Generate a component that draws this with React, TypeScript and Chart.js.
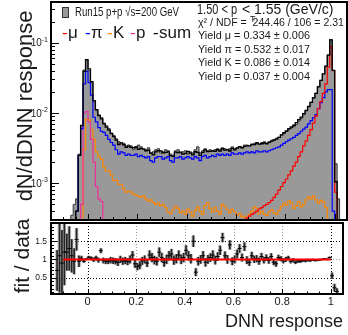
import React, { useEffect, useRef } from "react";
import { Chart, registerables } from "chart.js";
Chart.register(...registerables);

// ---------------- axis ranges / binning ----------------
const X_MIN = -0.15;
const X_MAX = 1.05;
const BIN_WIDTH = 0.01;
const Y_TOP_MIN = 3.1e-4;
const Y_TOP_MAX = 0.38;
const Y_BOT_MIN = 0.05;
const Y_BOT_MAX = 2.0;

const xTickValues = [0, 0.2, 0.4, 0.6, 0.8, 1];
const yTopTickValues = [1e-3, 1e-2, 1e-1];
const yBotTickValues = [0.5, 1, 1.5];
const refLinesX = [0, 1];
const refLinesY = [0.5, 1.5];
const fitRange = [-0.1, 1.0];

// ---------------- data (bin contents, first bin low edge given) ----------------
const dataStart = -0.13;
const dataValues = [
  0.00003, 0.00004, 0.00005, 0.00008, 0.00012, 0.0002, 0.00035, 0.0005, 0.0006, 0.0026,
  0.0065, 0.041, 0.057, 0.040, 0.027, 0.0150, 0.0108, 0.0094, 0.0086, 0.0072,
  0.0066, 0.0060, 0.0052, 0.0048, 0.0043, 0.0039, 0.0038, 0.0037, 0.0034, 0.0035,
  0.0034, 0.0030, 0.0033, 0.0035, 0.0033, 0.0031, 0.0030, 0.0032, 0.0027, 0.0028,
  0.0030, 0.0031, 0.0027, 0.0028, 0.0030, 0.0029, 0.0026, 0.0025, 0.0029, 0.0030,
  0.0027, 0.0028, 0.0029, 0.0026, 0.0028, 0.0027, 0.0030, 0.0033, 0.0027, 0.0029,
  0.0031, 0.0029, 0.0030, 0.0029, 0.0030, 0.0031, 0.0030, 0.0032, 0.0031, 0.0030,
  0.0031, 0.0033, 0.0031, 0.0032, 0.0033, 0.0032, 0.0035, 0.0035, 0.0034, 0.0036,
  0.0037, 0.0038, 0.0036, 0.0038, 0.0039, 0.0037, 0.0039, 0.0041, 0.0042, 0.0044,
  0.0045, 0.0049, 0.0051, 0.0055, 0.0058, 0.0061, 0.0064, 0.0069, 0.0077, 0.0084,
  0.0094, 0.0107, 0.0121, 0.0142, 0.0166, 0.0191, 0.0239, 0.0292, 0.0361, 0.0462,
  0.0671, 0.111, 0.0404, 0.0019, 0.0006, 0.0002,
];

const piStart = -0.07;
const piValues = [
  0.0001, 0.0002, 0.0004, 0.0025, 0.0060, 0.026, 0.039, 0.027, 0.018, 0.0087,
  0.0075, 0.0062, 0.0055, 0.0053, 0.0048, 0.0042, 0.0038, 0.0035, 0.0030, 0.0026,
  0.0028, 0.0027, 0.0025, 0.0026, 0.0025, 0.0025, 0.0026, 0.0024, 0.0025, 0.0024,
  0.0023, 0.0024, 0.0021, 0.0020, 0.0023, 0.0024, 0.0024, 0.0022, 0.0023, 0.0024,
  0.0021, 0.0020, 0.0023, 0.0023, 0.0024, 0.0022, 0.0023, 0.0024, 0.0023, 0.0022,
  0.0024, 0.0023, 0.0021, 0.0024, 0.0025, 0.0023, 0.0024, 0.0025, 0.0024, 0.0026,
  0.0025, 0.0026, 0.0025, 0.0026, 0.0025, 0.0027, 0.0026, 0.0026, 0.0027, 0.0026,
  0.0027, 0.0028, 0.0027, 0.0028, 0.0027, 0.0029, 0.0028, 0.0028, 0.0029, 0.0028,
  0.0029, 0.0030, 0.0031, 0.0032, 0.0033, 0.0035, 0.0037, 0.0039, 0.0041, 0.0043,
  0.0045, 0.0048, 0.0051, 0.0055, 0.0059, 0.0063, 0.0070, 0.0078, 0.0086, 0.0095,
  0.0115, 0.0140, 0.0165, 0.0200, 0.0215, 0.0215, 0.0004, 0.0003,
];

const kStart = -0.03;
const kValues = [
  0.00015, 0.0030, 0.0081, 0.0080, 0.0058, 0.0042, 0.0028, 0.0024, 0.0022, 0.0017,
  0.0015, 0.0015, 0.0013, 0.0011, 0.0011, 0.00096, 0.00096, 0.00083, 0.00075, 0.00077,
  0.00075, 0.00070, 0.00068, 0.00065, 0.00063, 0.00066, 0.00060, 0.00055, 0.00058, 0.00053,
  0.00050, 0.00052, 0.00048, 0.00050, 0.00045, 0.00039, 0.00037, 0.00042, 0.00047, 0.00044,
  0.00038, 0.00040, 0.00036, 0.00043, 0.00039, 0.00034, 0.00041, 0.00046, 0.00040, 0.00036,
  0.00048, 0.00053, 0.00044, 0.00039, 0.00045, 0.00040, 0.00036, 0.00050, 0.00047, 0.00042,
  0.00038, 0.00043, 0.00039, 0.00035, 0.00037, 0.00033, 0.00034, 0.00028, 0.00036, 0.00040,
  0.00046, 0.00044, 0.00037, 0.00040, 0.00036, 0.00035, 0.00039, 0.00042, 0.00038, 0.00036,
  0.00041, 0.00047, 0.00052, 0.00049, 0.00056, 0.00052, 0.00044, 0.00048, 0.00055, 0.00046,
  0.00050, 0.00058, 0.00064, 0.00060, 0.00066, 0.00058, 0.00052, 0.00057, 0.00054, 0.00045,
];

const pStart = -0.03;
const pValues = [0.0005, 0.0100, 0.0105, 0.0074, 0.0042, 0.0020, 0.0009, 0.0006, 0.00055];

const muStart = 0.6;
const muValues = [
  0.00022, 0.00025, 0.00027, 0.00030, 0.00032, 0.00034, 0.00036, 0.00038, 0.00040, 0.00043,
  0.00045, 0.00048, 0.00050, 0.00053, 0.00057, 0.00063, 0.00070, 0.00080, 0.00090, 0.00102,
  0.00115, 0.00132, 0.00150, 0.00175, 0.0020, 0.0024, 0.0028, 0.0034, 0.0040, 0.0048,
  0.0058, 0.0072, 0.0090, 0.0115, 0.0145, 0.019, 0.026, 0.045, 0.088, 0.040,
  0.00075,
];

// fit / data ratio per bin, with errors
const ratioStart = -0.13;
const ratioValues = [
  0.70, 1.10, 0.90, 1.20, 1.20, 1.30, 1.10, 0.95, 1.55, 0.95,
  1.03, 0.95, 1.01, 1.06, 1.04, 0.99, 1.04, 0.98, 1.24, 0.97,
  0.95, 0.95, 0.98, 0.96, 0.95, 0.92, 1.00, 0.95, 0.97, 0.94,
  1.00, 1.12, 0.88, 0.80, 0.84, 0.96, 1.00, 0.90, 1.12, 1.05,
  0.98, 0.95, 1.20, 1.05, 0.92, 1.00, 1.10, 1.15, 0.98, 1.02,
  1.12, 1.00, 1.05, 1.25, 1.10, 1.02, 1.50, 0.65, 0.95, 1.00,
  1.10, 0.92, 1.00, 1.05, 1.12, 0.98, 1.08, 1.25, 1.60, 1.10,
  1.00, 1.40, 0.95, 1.00, 1.15, 1.30, 1.05, 1.35, 0.98, 0.92,
  1.10, 1.00, 1.02, 0.95, 1.08, 0.98, 1.05, 0.97, 1.08, 0.92,
  0.88, 1.05, 1.02, 0.96, 1.00, 1.04, 0.95, 0.98, 0.92, 0.96,
  0.95, 0.97, 0.96, 0.98, 0.97, 0.99, 0.97, 0.98, 0.99, 1.00,
  1.02, 1.00, 1.05, 0.55, 0.22, 0.12,
];
const ratioErrors = [
  0.55, 1.00, 0.90, 0.90, 0.50, 0.60, 0.45, 0.35, 0.30, 0.15,
  0.06, 0.03, 0.02, 0.03, 0.03, 0.05, 0.05, 0.06, 0.06, 0.07,
  0.07, 0.07, 0.08, 0.08, 0.08, 0.09, 0.09, 0.09, 0.09, 0.09,
  0.10, 0.10, 0.10, 0.09, 0.10, 0.10, 0.10, 0.10, 0.12, 0.12,
  0.11, 0.11, 0.12, 0.12, 0.11, 0.12, 0.12, 0.13, 0.12, 0.12,
  0.12, 0.12, 0.12, 0.13, 0.12, 0.12, 0.15, 0.10, 0.11, 0.11,
  0.12, 0.11, 0.11, 0.11, 0.12, 0.11, 0.11, 0.12, 0.12, 0.11,
  0.11, 0.12, 0.10, 0.10, 0.11, 0.11, 0.10, 0.11, 0.10, 0.09,
  0.10, 0.09, 0.09, 0.09, 0.09, 0.08, 0.08, 0.08, 0.08, 0.07,
  0.07, 0.07, 0.06, 0.06, 0.06, 0.05, 0.05, 0.05, 0.04, 0.04,
  0.04, 0.03, 0.03, 0.03, 0.03, 0.02, 0.02, 0.02, 0.02, 0.015,
  0.01, 0.01, 0.02, 0.08, 0.10, 0.08,
];

// ---------------- text ----------------
const dataLabel = "Run15 p+p \u221As=200 GeV";
const legendNames = ["\u03BC", "\u03C0", "K", "p", "sum"];
const legendColors = ["#ff0000", "#0000ff", "#ff8800", "#f0309a", "#000000"];
const rangeLabelLeft = "1.50 < p";
const rangeLabelSub = "T";
const rangeLabelRight = "< 1.55 (GeV/c)";
const chi2Label = "\u03C7\u00B2 / NDF =  244.46 / 106 = 2.31";
const yieldLabels = [
  "Yield \u03BC = 0.334 \u00B1 0.006",
  "Yield \u03C0 = 0.532 \u00B1 0.017",
  "Yield K = 0.086 \u00B1 0.014",
  "Yield p = 0.037 \u00B1 0.004",
];
const yTopTitle = "dN/dDNN response";
const yBotTitle = "fit / data";
const xTitle = "DNN response";

// ---------------- helpers ----------------
const FONT = '"Liberation Sans", Arial, Helvetica, sans-serif';
const TINY = 1e-7;
const N_BINS = Math.round((X_MAX - X_MIN) / BIN_WIDTH);

function placeBins(start: number, values: number[]): number[] {
  const out: number[] = new Array(N_BINS).fill(0);
  const off = Math.round((start - X_MIN) / BIN_WIDTH);
  values.forEach((v, i) => {
    const j = off + i;
    if (j >= 0 && j < N_BINS) out[j] = v;
  });
  return out;
}

function histPoints(bins: number[]) {
  const pts = bins.map((v, i) => ({ x: X_MIN + i * BIN_WIDTH, y: v > 0 ? v : TINY }));
  pts.push({ x: X_MAX, y: TINY });
  return pts;
}

const dataBins = placeBins(dataStart, dataValues);
const piBins = placeBins(piStart, piValues);
const kBins = placeBins(kStart, kValues);
const pBins = placeBins(pStart, pValues);
const muBins = placeBins(muStart, muValues);
const sumBins = piBins.map((v, i) => v + kBins[i] + pBins[i] + muBins[i]);

function seg(ctx: CanvasRenderingContext2D, x1: number, y1: number, x2: number, y2: number) {
  ctx.beginPath();
  ctx.moveTo(x1, y1);
  ctx.lineTo(x2, y2);
  ctx.stroke();
}

function text(
  ctx: CanvasRenderingContext2D, s: string, x: number, y: number, size: number,
  color = "#1a1a1a", align: CanvasTextAlign = "left", maxW?: number
) {
  ctx.font = `${size}px ${FONT}`;
  ctx.fillStyle = color;
  ctx.textAlign = align;
  ctx.textBaseline = "middle";
  if (maxW) ctx.fillText(s, x, y, maxW);
  else ctx.fillText(s, x, y);
}

function rotText(ctx: CanvasRenderingContext2D, s: string, x: number, y: number, size: number, maxW?: number) {
  ctx.save();
  ctx.translate(x, y);
  ctx.rotate(-Math.PI / 2);
  ctx.font = `${size}px ${FONT}`;
  ctx.fillStyle = "#1a1a1a";
  ctx.textAlign = "center";
  ctx.textBaseline = "alphabetic";
  if (maxW) ctx.fillText(s, 0, 0, maxW);
  else ctx.fillText(s, 0, 0);
  ctx.restore();
}

function drawXTicks(ctx: CanvasRenderingContext2D, xs: any, yBase: number, major: number, minor: number) {
  ctx.strokeStyle = "#000";
  ctx.lineWidth = 1;
  for (let k = -3; k <= 21; k++) {
    const v = k * 0.05;
    if (v < X_MIN || v > X_MAX) continue;
    const px = Math.round(xs.getPixelForValue(v)) + 0.5;
    const len = k % 4 === 0 ? major : minor;
    seg(ctx, px, yBase, px, yBase - len);
  }
}

const topPlugin = {
  id: "topDecor",
  afterDraw(chart: any) {
    const { ctx, chartArea: a } = chart;
    const xs = chart.scales.x;
    const ys = chart.scales.y;
    ctx.save();
    // y ticks (inward)
    ctx.strokeStyle = "#000";
    ctx.lineWidth = 1;
    for (let e = -4; e <= 0; e++) {
      for (let m = 1; m <= 9; m++) {
        const v = m * Math.pow(10, e);
        if (v < Y_TOP_MIN || v > Y_TOP_MAX) continue;
        const py = Math.round(ys.getPixelForValue(v)) + 0.5;
        seg(ctx, a.left, py, a.left + (m === 1 ? 8 : 4), py);
      }
    }
    drawXTicks(ctx, xs, a.bottom, 6, 3);
    // frame
    ctx.lineWidth = 2;
    ctx.strokeRect(a.left, a.top, a.right - a.left, a.bottom - a.top);
    // y labels 10^n
    for (const v of yTopTickValues) {
      const py = ys.getPixelForValue(v);
      const ex = String(Math.round(Math.log10(v)));
      ctx.font = `7px ${FONT}`;
      const w = ctx.measureText(ex).width;
      const right = a.left - 3;
      text(ctx, ex, right - w, py - 3, 7, "#1a1a1a", "left");
      text(ctx, "10", right - w, py + 1, 10, "#1a1a1a", "right");
    }
    // y title
    rotText(ctx, yTopTitle, 32, 106, 22);
    // legend: data
    ctx.fillStyle = "#999999";
    ctx.fillRect(62, 7, 6, 10);
    ctx.strokeStyle = "#333";
    ctx.lineWidth = 1;
    ctx.strokeRect(62.5, 7.5, 6, 10);
    text(ctx, dataLabel, 75, 12, 13, "#1a1a1a", "left", 104);
    // legend: components
    const lx = [62, 85, 107, 130, 153];
    legendNames.forEach((n, i) => {
      text(ctx, "-", lx[i], 33, 17, legendColors[i], "left");
      text(ctx, n, lx[i] + 6, 33, 17, "#1a1a1a", "left");
    });
    // stats block
    text(ctx, rangeLabelLeft, 197, 10, 14, "#1a1a1a", "left", 40);
    text(ctx, rangeLabelRight, 242, 10, 14, "#1a1a1a", "left", 101);
    text(ctx, chi2Label, 198, 22.5, 11, "#1a1a1a", "left", 146);
    text(ctx, rangeLabelSub, 250, 20, 9, "#1a1a1a", "left");
    yieldLabels.forEach((s, i) => {
      text(ctx, s, 198, 36 + i * 13.7, 11, "#1a1a1a", "left", 112);
    });
    ctx.restore();
  },
};

const botPlugin = {
  id: "botDecor",
  beforeDatasetsDraw(chart: any) {
    const { ctx, chartArea: a } = chart;
    const xs = chart.scales.x;
    const ys = chart.scales.y;
    ctx.save();
    ctx.lineWidth = 1;
    ctx.setLineDash([1, 2]);
    for (const v of xTickValues) {
      const px = Math.round(xs.getPixelForValue(v)) + 0.5;
      ctx.strokeStyle = refLinesX.includes(v) ? "#000" : "#9a9a9a";
      seg(ctx, px, a.top, px, a.bottom);
    }
    for (const v of yBotTickValues) {
      const py = Math.round(ys.getPixelForValue(v)) + 0.5;
      ctx.strokeStyle = refLinesY.includes(v) ? "#000" : "#9a9a9a";
      seg(ctx, a.left, py, a.right, py);
    }
    ctx.restore();
  },
  afterDraw(chart: any) {
    const { ctx, chartArea: a } = chart;
    const xs = chart.scales.x;
    const ys = chart.scales.y;
    ctx.save();
    ctx.strokeStyle = "#000";
    ctx.lineWidth = 1;
    for (let k = 1; k <= 20; k++) {
      const v = k / 10;
      if (v < Y_BOT_MIN || v > Y_BOT_MAX) continue;
      const py = Math.round(ys.getPixelForValue(v)) + 0.5;
      seg(ctx, a.left, py, a.left + (k % 5 === 0 ? 6 : 3), py);
    }
    drawXTicks(ctx, xs, a.bottom, 5, 2.5);
    ctx.lineWidth = 2;
    ctx.strokeRect(a.left, a.top, a.right - a.left, a.bottom - a.top);
    for (const v of yBotTickValues) {
      text(ctx, String(v), a.left - 4, ys.getPixelForValue(v), 8.5, "#1a1a1a", "right");
    }
    for (const v of xTickValues) {
      text(ctx, String(v), xs.getPixelForValue(v), a.bottom + 8, 11, "#1a1a1a", "center");
    }
    rotText(ctx, yBotTitle, 29, 38, 21);
    ctx.font = `18px ${FONT}`;
    ctx.fillStyle = "#1a1a1a";
    ctx.textAlign = "right";
    ctx.textBaseline = "alphabetic";
    ctx.fillText(xTitle, 343, 109);
    ctx.restore();
  },
};

export default function App() {
  const topRef = useRef<HTMLCanvasElement>(null);
  const botRef = useRef<HTMLCanvasElement>(null);

  useEffect(() => {
    const lineDs = (label: string, bins: number[], color: string, order: number, width = 1.2) => ({
      type: "line" as const,
      label,
      data: histPoints(bins),
      borderColor: color,
      borderWidth: width,
      pointRadius: 0,
      stepped: "before" as const,
      fill: false,
      order,
      clip: 0,
    });

    const top = new Chart(topRef.current!, {
      type: "line",
      data: {
        datasets: [
          {
            ...lineDs("data", dataBins, "#3a3a3a", 10, 1),
            fill: "start",
            backgroundColor: "#999999",
          } as any,
          lineDs("K", kBins, legendColors[2], 6),
          lineDs("p", pBins, legendColors[3], 5),
          lineDs("pi", piBins, legendColors[1], 4),
          lineDs("mu", muBins, legendColors[0], 3),
          lineDs("sum", sumBins, "#000000", 1, 1.3),
        ],
      },
      options: {
        animation: false,
        responsive: false,
        devicePixelRatio: 1,
        events: [],
        layout: { padding: { left: 51, right: 1, top: 2, bottom: 2 } },
        plugins: { legend: { display: false }, tooltip: { enabled: false } },
        scales: {
          x: { type: "linear", min: X_MIN, max: X_MAX, display: false },
          y: { type: "logarithmic", min: Y_TOP_MIN, max: Y_TOP_MAX, display: false },
        },
      },
      plugins: [topPlugin],
    });

    const rStart = Math.round((ratioStart - X_MIN) / BIN_WIDTH);
    const centers = ratioValues.map((_, i) => X_MIN + (rStart + i + 0.5) * BIN_WIDTH);
    const errBars = ratioValues.map((v, i) => ({ x: centers[i], y: [v - ratioErrors[i], v + ratioErrors[i]] }));
    const markers = ratioValues.map((v, i) => ({ x: centers[i], y: v }));

    const bot = new Chart(botRef.current!, {
      type: "scatter",
      data: {
        datasets: [
          {
            type: "line",
            data: fitRange.map((x) => ({ x, y: 1 })),
            borderColor: "#ff0000",
            borderWidth: 2,
            pointRadius: 0,
            order: 0,
            clip: 0,
          } as any,
          {
            type: "scatter",
            data: markers,
            pointStyle: "line",
            pointRadius: 2,
            borderColor: "#000",
            borderWidth: 1,
            order: 1,
            clip: 0,
          } as any,
          {
            type: "bar",
            data: errBars,
            backgroundColor: "#222222",
            barThickness: 1,
            grouped: false,
            order: 2,
            clip: 0,
          } as any,
          {
            type: "bar",
            data: errBars,
            backgroundColor: "rgba(160,160,160,0.75)",
            barThickness: 3,
            grouped: false,
            order: 3,
            clip: 0,
          } as any,
        ],
      },
      options: {
        animation: false,
        responsive: false,
        devicePixelRatio: 1,
        events: [],
        layout: { padding: { left: 51, right: 1, top: 2, bottom: 41 } },
        plugins: { legend: { display: false }, tooltip: { enabled: false } },
        scales: {
          x: { type: "linear", min: X_MIN, max: X_MAX, display: false, offset: false },
          y: { type: "linear", min: Y_BOT_MIN, max: Y_BOT_MAX, display: false },
        },
      },
      plugins: [botPlugin],
    });

    return () => {
      top.destroy();
      bot.destroy();
    };
  }, []);

  return (
    <div style={{ position: "fixed", left: 0, top: 0, width: 348, height: 335, background: "#fff" }}>
      <canvas
        ref={topRef}
        width={348}
        height={222}
        style={{ position: "absolute", left: 0, top: 0, width: 348, height: 222 }}
      />
      <canvas
        ref={botRef}
        width={348}
        height={117}
        style={{ position: "absolute", left: 0, top: 218, width: 348, height: 117 }}
      />
    </div>
  );
}
